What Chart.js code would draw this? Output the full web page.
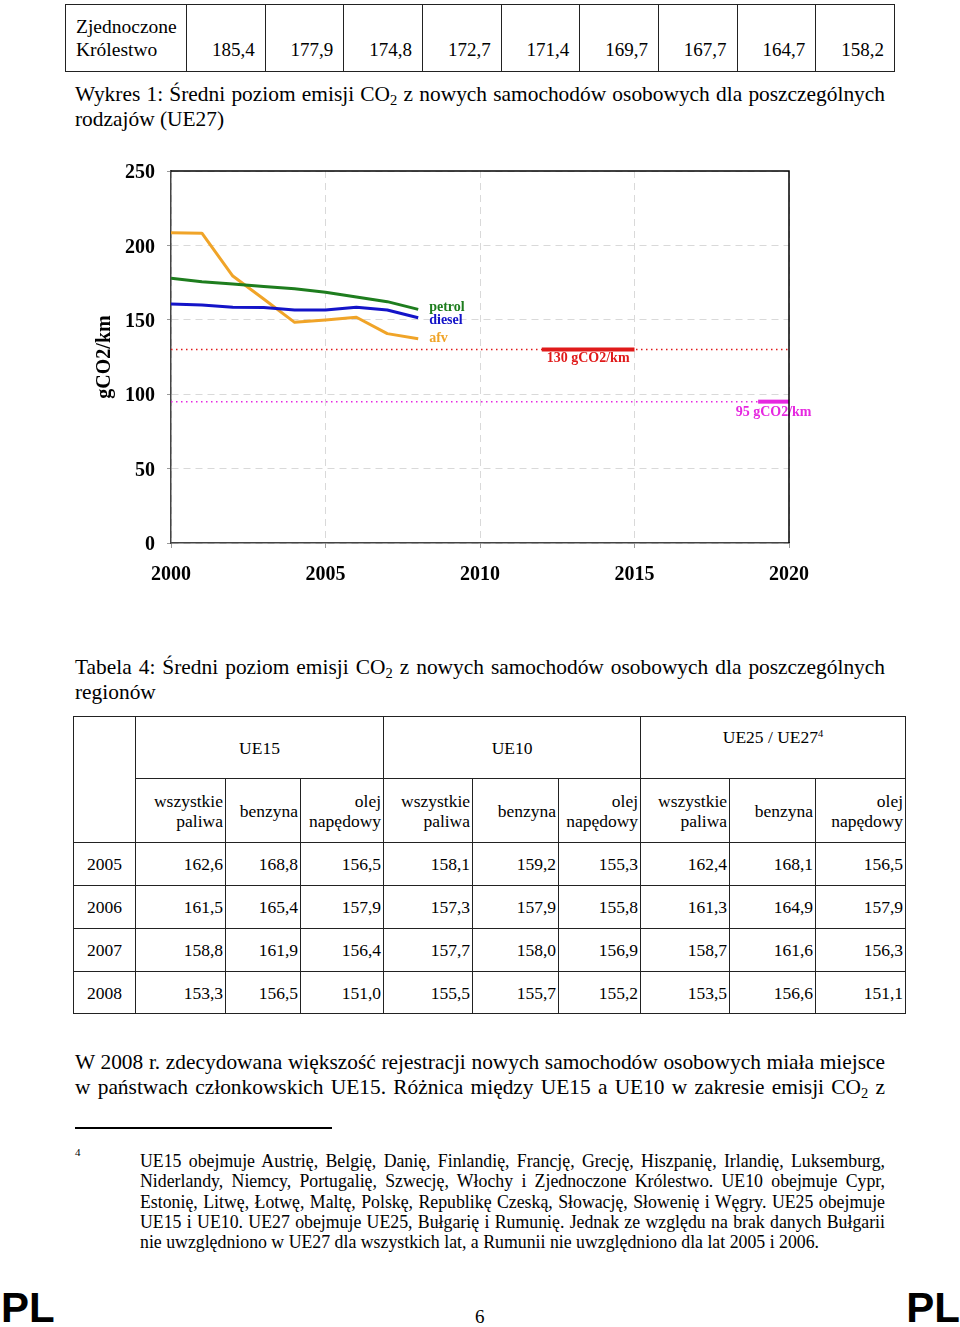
<!DOCTYPE html>
<html lang="pl">
<head>
<meta charset="utf-8">
<script src="https://cdn.jsdelivr.net/npm/chart.js@4.4.1/dist/chart.umd.min.js"></script>
<style>
body { margin:0; width:960px; height:1327px; position:relative; overflow:hidden; background:#fff;
       font-family:"Liberation Serif", serif; color:#000; }
.abs { position:absolute; }
.jl { text-align:justify; text-align-last:justify; }
sub { font-size:0.68em; vertical-align:-0.28em; line-height:0; }
table { border-collapse:collapse; table-layout:fixed; }
td { border:1px solid #222; padding:0; }
#t1 td { vertical-align:bottom; padding:0 10px 10px 10px; line-height:23px; font-size:19px; text-align:right; }
#t1 td.name { text-align:left; font-size:19.5px; }
#t2 td { font-size:17.5px; line-height:20px; text-align:right; padding:0 2px; vertical-align:middle; }
#t2 td.c { text-align:center; }
#t2 td.top { vertical-align:top; padding-top:10px; }
#t2 sup { font-size:0.6em; vertical-align:0.6em; line-height:0; }
.cap { left:75px; width:810px; font-size:21.4px; line-height:25px; }
.foot { left:140px; width:745px; font-size:17.8px; line-height:20.25px; }
.pl { font-family:"Liberation Sans", sans-serif; font-weight:bold; font-size:42px; line-height:42px; top:1287px; }
</style>
</head>
<body>

<table id="t1" class="abs" style="left:65px; top:4px; width:830px;">
<colgroup><col style="width:121px"><col><col><col><col><col><col><col><col><col></colgroup>
<tr style="height:67px">
<td class="name">Zjednoczone<br>Królestwo</td>
<td>185,4</td><td>177,9</td><td>174,8</td><td>172,7</td><td>171,4</td><td>169,7</td><td>167,7</td><td>164,7</td><td>158,2</td>
</tr>
</table>

<div class="abs cap" style="top:82px;">
<div class="jl">Wykres 1: Średni poziom emisji CO<sub>2</sub> z nowych samochodów osobowych dla poszczególnych</div>
<div>rodzajów (UE27)</div>
</div>

<div class="abs" style="left:0; top:140px; width:960px; height:460px;">
<canvas id="myChart" width="960" height="460"></canvas>
</div>

<div class="abs cap" style="top:655px;">
<div class="jl">Tabela 4: Średni poziom emisji CO<sub>2</sub> z nowych samochodów osobowych dla poszczególnych</div>
<div>regionów</div>
</div>

<table id="t2" class="abs" style="left:73px; top:716px; width:832px;">
<colgroup>
<col style="width:62px"><col style="width:90px"><col style="width:75px"><col style="width:83px">
<col style="width:89px"><col style="width:86px"><col style="width:82px">
<col style="width:89px"><col style="width:86px"><col style="width:90px">
</colgroup>
<tr style="height:62px">
<td rowspan="2"></td>
<td colspan="3" class="c">UE15</td>
<td colspan="3" class="c">UE10</td>
<td colspan="3" class="c top">UE25 / UE27<sup>4</sup></td>
</tr>
<tr style="height:64px">
<td>wszystkie<br>paliwa</td><td>benzyna</td><td>olej<br>napędowy</td>
<td>wszystkie<br>paliwa</td><td>benzyna</td><td>olej<br>napędowy</td>
<td>wszystkie<br>paliwa</td><td>benzyna</td><td>olej<br>napędowy</td>
</tr>
<tr style="height:43px"><td class="c">2005</td><td>162,6</td><td>168,8</td><td>156,5</td><td>158,1</td><td>159,2</td><td>155,3</td><td>162,4</td><td>168,1</td><td>156,5</td></tr>
<tr style="height:43px"><td class="c">2006</td><td>161,5</td><td>165,4</td><td>157,9</td><td>157,3</td><td>157,9</td><td>155,8</td><td>161,3</td><td>164,9</td><td>157,9</td></tr>
<tr style="height:43px"><td class="c">2007</td><td>158,8</td><td>161,9</td><td>156,4</td><td>157,7</td><td>158,0</td><td>156,9</td><td>158,7</td><td>161,6</td><td>156,3</td></tr>
<tr style="height:42px"><td class="c">2008</td><td>153,3</td><td>156,5</td><td>151,0</td><td>155,5</td><td>155,7</td><td>155,2</td><td>153,5</td><td>156,6</td><td>151,1</td></tr>
</table>

<div class="abs cap" style="top:1050px;">
<div class="jl">W 2008 r. zdecydowana większość rejestracji nowych samochodów osobowych miała miejsce</div>
<div class="jl">w państwach członkowskich UE15. Różnica między UE15 a UE10 w zakresie emisji CO<sub>2</sub> z</div>
</div>

<div class="abs" style="left:75px; top:1127px; width:257px; height:1.5px; background:#000;"></div>
<div class="abs" style="left:75px; top:1146px; font-size:11px;">4</div>

<div class="abs foot" style="top:1151px;">
<div class="jl">UE15 obejmuje Austrię, Belgię, Danię, Finlandię, Francję, Grecję, Hiszpanię, Irlandię, Luksemburg,</div>
<div class="jl">Niderlandy, Niemcy, Portugalię, Szwecję, Włochy i Zjednoczone Królestwo. UE10 obejmuje Cypr,</div>
<div class="jl">Estonię, Litwę, Łotwę, Maltę, Polskę, Republikę Czeską, Słowację, Słowenię i Węgry. UE25 obejmuje</div>
<div class="jl">UE15 i UE10. UE27 obejmuje UE25, Bułgarię i Rumunię. Jednak ze względu na brak danych Bułgarii</div>
<div>nie uwzględniono w UE27 dla wszystkich lat, a Rumunii nie uwzględniono dla lat 2005 i 2006.</div>
</div>

<div class="abs pl" style="left:1px;">PL</div>
<div class="abs" style="left:475px; top:1306px; font-size:19px;">6</div>
<div class="abs pl" style="right:0;">PL</div>

<script>
// dane z wykresu
var years = [2000, 2001, 2002, 2003, 2004, 2005, 2006, 2007, 2008];
var petrol = [177.9, 175.6, 174.0, 172.3, 170.9, 168.5, 165.3, 162.2, 157.0];
var diesel = [160.6, 159.9, 158.4, 158.2, 156.6, 156.6, 158.4, 156.6, 151.4];
var afv = [208.5, 208.2, 179.4, 164.0, 148.3, 149.8, 151.7, 140.7, 137.3];
var seriesNames = ['petrol', 'diesel', 'afv'];
var xTicks = [2000, 2005, 2010, 2015, 2020];
var yTicks = [0, 50, 100, 150, 200, 250];
var target130 = 130;
var target130Years = [2012, 2015];
var target95 = 95;
var target95Years = [2019, 2020];
var targetLabels = ['130 gCO2/km', '95 gCO2/km'];

var green = '#1e7d1e';
var blue = '#1414c8';
var orange = '#f0a428';
var red = '#e01a1a';
var magenta = '#e628e0';

function pts(xs, ys) {
	return xs.map((x, i) => ({ x: x, y: ys[i] }));
}

// opisy serii i celow
var labelPlugin = {
	id: 'labels',
	afterDatasetsDraw: function(chart) {
		var ctx = chart.ctx;
		var x = chart.scales.x, y = chart.scales.y;
		var last = years.length - 1;
		var ends = [petrol[last], diesel[last], afv[last]];
		var cols = [green, blue, orange];
		var dy = [-2, 3, 0];
		ctx.save();
		ctx.font = 'bold 14px "Liberation Serif"';
		ctx.textBaseline = 'middle';
		ctx.textAlign = 'left';
		for (var i = 0; i < 3; i++) {
			ctx.fillStyle = cols[i];
			ctx.fillText(seriesNames[i], x.getPixelForValue(years[last]) + 11, y.getPixelForValue(ends[i]) + dy[i]);
		}
		ctx.textAlign = 'center';
		ctx.fillStyle = red;
		ctx.fillText(targetLabels[0], x.getPixelForValue((target130Years[0] + target130Years[1]) / 2), y.getPixelForValue(target130) + 9);
		ctx.fillStyle = magenta;
		ctx.fillText(targetLabels[1], x.getPixelForValue((target95Years[0] + target95Years[1]) / 2), y.getPixelForValue(target95) + 11);
		// gorna i prawa krawedz ramki
		var a = chart.chartArea;
		ctx.strokeStyle = '#000';
		ctx.lineWidth = 1.5;
		ctx.beginPath();
		ctx.moveTo(a.left, a.top);
		ctx.lineTo(a.right, a.top);
		ctx.lineTo(a.right, a.bottom);
		ctx.stroke();
		ctx.restore();
	}
};

var ctx = document.getElementById('myChart').getContext('2d');
var xr = [xTicks[0], xTicks[xTicks.length - 1]];

var chart = new Chart(ctx, {
	type: 'line',
	data: {
		datasets: [
			{ data: pts(xr, [target130, target130]), borderColor: red, borderWidth: 1.5, borderDash: [1.5, 3.5] },
			{ data: pts(xr, [target95, target95]), borderColor: magenta, borderWidth: 1.5, borderDash: [1.5, 3.5] },
			{ data: pts(target130Years, [target130, target130]), borderColor: red, borderWidth: 4 },
			{ data: pts(target95Years, [target95, target95]), borderColor: magenta, borderWidth: 4 },
			{ label: 'petrol', data: pts(years, petrol), borderColor: green, borderWidth: 3 },
			{ label: 'diesel', data: pts(years, diesel), borderColor: blue, borderWidth: 3 },
			{ label: 'afv', data: pts(years, afv), borderColor: orange, borderWidth: 3 }
		]
	},
	options: {
		responsive: false,
		animation: false,
		elements: { point: { radius: 0 }, line: { tension: 0, borderJoinStyle: 'round' } },
		layout: { padding: { left: 90, right: 171, top: 31, bottom: 17 } },
		plugins: { legend: { display: false }, tooltip: { enabled: false } },
		scales: {
			x: {
				type: 'linear',
				min: xr[0],
				max: xr[1],
				afterBuildTicks: function(s) { s.ticks = xTicks.map(v => ({ value: v })); },
				afterFit: function(s) { s.height = 40; },
				ticks: {
					color: '#000',
					font: { family: 'Liberation Serif', size: 20, weight: 'bold' },
					padding: 15,
					callback: v => String(v)
				},
				grid: { color: '#d9d9d9', tickColor: '#999', tickLength: 5 },
				border: { color: '#444', width: 1.5, dash: [7, 5] }
			},
			y: {
				min: yTicks[0],
				max: yTicks[yTicks.length - 1],
				afterBuildTicks: function(s) { s.ticks = yTicks.map(v => ({ value: v })); },
				afterFit: function(s) { s.width = 81; },
				ticks: {
					color: '#000',
					font: { family: 'Liberation Serif', size: 20, weight: 'bold' },
					padding: 12,
					labelOffset: 2,
					callback: v => String(v)
				},
				grid: { color: '#d9d9d9', tickColor: '#999', tickLength: 4 },
				border: { color: '#444', width: 1.5, dash: [7, 5] },
				title: {
					display: true,
					text: 'gCO2/km',
					color: '#000',
					font: { family: 'Liberation Serif', size: 20, weight: 'bold', lineHeight: 1 },
					padding: { top: 5, bottom: 0 }
				}
			}
		}
	},
	plugins: [labelPlugin]
});
</script>
</body>
</html>
